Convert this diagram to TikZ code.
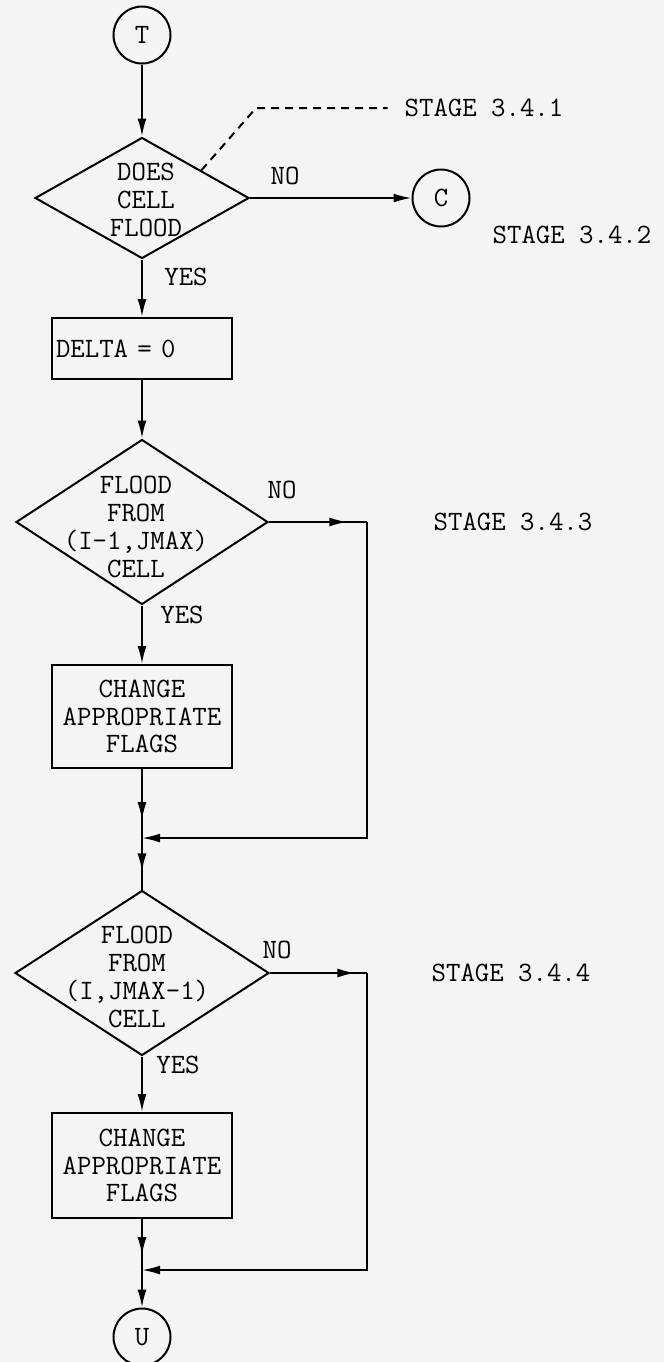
\documentclass[tikz,border=0pt]{standalone}
\usepackage{xcolor}
\usepackage{tikz}
\usetikzlibrary{arrows.meta,positioning,calc,shapes.geometric,decorations.markings}
\definecolor{paper}{gray}{0.955}
\newcommand{\flowfont}{\ttfamily\fontsize{14pt}{13.9pt}\selectfont}
\tikzset{
  blk/.style={draw,line width=1pt,align=center,minimum width=90pt,inner sep=2pt},
  dec/.style={draw,diamond,line width=1pt,inner sep=0pt},
  con/.style={draw,circle,line width=1pt,minimum size=28.5pt,inner sep=0pt},
  txt/.style={align=center,inner sep=0pt},
  sig/.style={-{Latex[length=9pt,width=4.5pt]},line width=1pt},
  wire/.style={line width=1pt},
  midarr/.style={postaction={decorate},decoration={markings,
    mark=at position #1 with {\arrow{Latex[length=9pt,width=4.5pt]}}}}
}
\begin{document}
\begin{tikzpicture}[x=0.5pt,y=-0.5pt,every node/.style={font=\flowfont}]
  \fill[paper] (0,0) rectangle (664,1362);
  \useasboundingbox (0,0) rectangle (664,1362);
  % ---- stage 3.4.1 / 3.4.2 ----
  \node[con] (T) at (142,35) {T};
  \node[dec,minimum width=107pt,minimum height=60.5pt] (d1) at (142,198) {};
  \node[txt] (d1t) at (146,200) {DOES\\CELL\\FLOOD};
  \node[con] (C) at (441,198) {C};
  \node (s1) at (484,108) {STAGE 3.4.1};
  \node (s2) at (572,235) {STAGE 3.4.2};
  \node (no1) at (285,176) {NO};
  \node (yes1) at (186,277) {YES};
  \node[blk,minimum height=30.5pt,text width=86pt,align=left] (b0) at (142,348.5) {DELTA = 0};
  \coordinate (k1) at (256,108);
  \draw[sig] (T) -- (d1);
  \draw[sig] (d1) -- (C);
  \draw[sig] (d1) -- (b0);
  \draw[wire,dash pattern=on 4pt off 3pt,shorten >=5pt] ($(d1.north)!0.55!(d1.east)$) -- (k1) -- (s1.west);
  % ---- stage 3.4.3 ----
  \node[dec,minimum width=126pt,minimum height=82.5pt] (d2) at (142,522) {};
  \node[txt] (d2t) at (136,527) {FLOOD\\FROM\\(I-1,JMAX)\\CELL};
  \node (s3) at (513,522) {STAGE 3.4.3};
  \node (no2) at (282,490) {NO};
  \node (yes2) at (182,615) {YES};
  \node[blk,minimum height=51.5pt] (b1) at (142,716.5) {CHANGE\\APPROPRIATE\\FLAGS};
  \coordinate (r1) at (367,522);
  \coordinate (j1) at (142,838);
  \draw[sig] (b0) -- (d2);
  \draw[wire,midarr=0.8] (d2.east) -- (r1);
  \draw[sig] (r1) |- (j1);
  \draw[sig] (d2) -- (b1);
  \draw[wire,midarr=0.74] (b1) -- (j1);
  % ---- stage 3.4.4 ----
  \node[dec,minimum width=127pt,minimum height=82.5pt] (d3) at (142,973) {};
  \node[txt] (d3t) at (137,977) {FLOOD\\FROM\\(I,JMAX-1)\\CELL};
  \node (s4) at (511,973) {STAGE 3.4.4};
  \node (no3) at (277,950) {NO};
  \node (yes3) at (178,1065) {YES};
  \node[blk,minimum height=52.5pt] (b2) at (142,1165.5) {CHANGE\\APPROPRIATE\\FLAGS};
  \node[con] (U) at (142,1337) {U};
  \coordinate (r2) at (367,973);
  \coordinate (j2) at (142,1270);
  \draw[wire,midarr=0.65] (j1) -- (d3);
  \draw[wire,midarr=0.88] (d3.east) -- (r2);
  \draw[sig] (r2) |- (j2);
  \draw[sig] (d3) -- (b2);
  \draw[wire,midarr=0.71] (b2) -- (j2);
  \draw[sig] (j2) -- (U);
\end{tikzpicture}
\end{document}
